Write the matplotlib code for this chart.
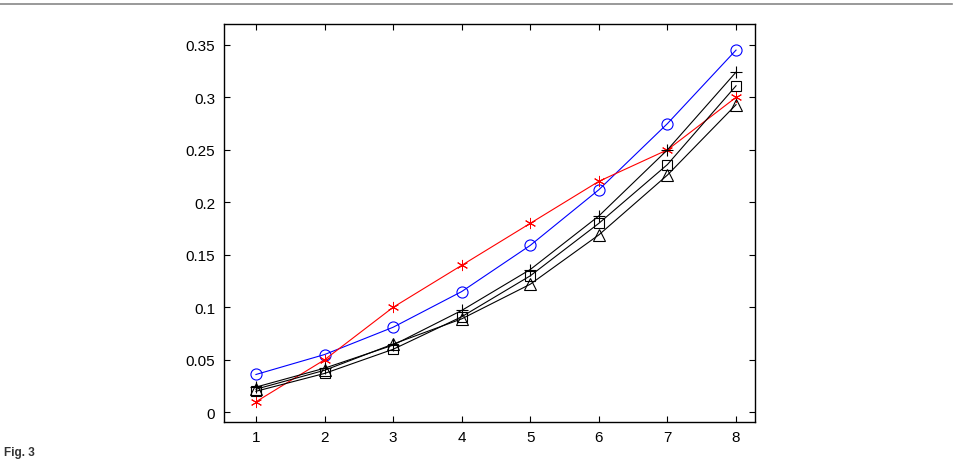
import numpy as np
import matplotlib.pyplot as plt
from matplotlib.lines import Line2D

plt.rcParams['font.family'] = ['Liberation Sans', 'DejaVu Sans']

x = [1, 2, 3, 4, 5, 6, 7, 8]

# series
circle   = [0.036, 0.055, 0.081, 0.115, 0.159, 0.212, 0.275, 0.345]
star     = [0.010, 0.050, 0.100, 0.140, 0.180, 0.220, 0.250, 0.300]
plus     = [0.024, 0.042, 0.064, 0.097, 0.136, 0.187, 0.250, 0.324]
square   = [0.020, 0.037, 0.060, 0.091, 0.130, 0.180, 0.236, 0.311]
triangle = [0.022, 0.040, 0.065, 0.089, 0.122, 0.169, 0.226, 0.293]

xticks = [1, 2, 3, 4, 5, 6, 7, 8]
yticks = [0, 0.05, 0.1, 0.15, 0.2, 0.25, 0.3, 0.35]
ytick_labels = ['0', '0.05', '0.1', '0.15', '0.2', '0.25', '0.3', '0.35']

fig = plt.figure(figsize=(9.56, 4.6), dpi=100)
ax = fig.add_axes([0.234, 0.081, 0.556, 0.865])

ax.plot(x, circle, color='blue', lw=0.8, marker='o', ms=8, mfc='none', mec='blue', mew=0.8)
ax.plot(x, star, color='red', lw=0.8, marker=(6, 2, 0), ms=8, mec='red', mew=0.7)
ax.plot(x, plus, color='black', lw=0.8, marker='+', ms=9, mew=0.8)
ax.plot(x, square, color='black', lw=0.8, marker='s', ms=7, mfc='none', mew=0.8)
ax.plot(x, triangle, color='black', lw=0.8, marker='^', ms=8, mfc='none', mew=0.8)

ax.set_xlim(0.53, 8.28)
ax.set_ylim(-0.009, 0.37)
ax.set_xticks(xticks)
ax.set_yticks(yticks)
ax.set_yticklabels(ytick_labels)
ax.tick_params(direction='in', top=True, right=True, length=4, width=0.8,
               labelsize=11, colors='black', pad=6)
for s in ax.spines.values():
    s.set_linewidth(1.0)

# frame line at the top of the page and caption
fig.add_artist(Line2D([0, 0.996], [0.990, 0.990], color='#888888', lw=1.2))
fig.text(0.004, 0.003, 'Fig. 3', fontsize=8.5, fontweight='bold', va='bottom', color='#333333')

fig.savefig('out.png', dpi=100)
